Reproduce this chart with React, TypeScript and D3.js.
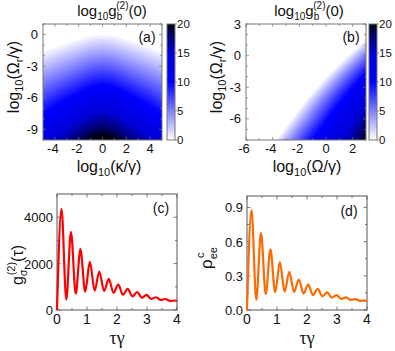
import React from "react";
import * as d3 from "d3";

// (a) log10 g_b^(2)(0) over log10(kappa/gamma) x log10(Omega_r/gamma)
const kappaLog = [-5, -4, -3, -2, -1, 0, 1, 2, 3, 4, 5];
const omegaRLogA = [1, 0, -1, -2, -3, -4, -5, -6, -7, -8, -9, -10];
const g2GridA = [
  [-4.1, -3.7, -3.1, -2.5, -2.0, -1.8, -2.0, -2.5, -3.1, -3.7, -4.1],
  [-2.5, -1.9, -1.3, -0.6, 0, 0.2, 0, -0.6, -1.3, -1.9, -2.5],
  [-0.8, -0.2, 0.5, 1.3, 2.0, 2.3, 2.0, 1.3, 0.5, -0.2, -0.8],
  [0.8, 1.6, 2.4, 3.2, 4.0, 4.3, 4.0, 3.2, 2.4, 1.6, 0.8],
  [2.5, 3.3, 4.2, 5.1, 6.0, 6.4, 6.0, 5.1, 4.2, 3.3, 2.5],
  [4.1, 5.1, 6.0, 7.0, 8.0, 8.4, 8.0, 7.0, 6.0, 5.1, 4.1],
  [5.8, 6.8, 7.9, 8.9, 10.0, 10.5, 10.0, 8.9, 7.9, 6.8, 5.8],
  [7.4, 8.6, 9.7, 10.8, 12.0, 12.5, 12.0, 10.8, 9.7, 8.6, 7.4],
  [9.1, 10.3, 11.5, 12.7, 14.0, 14.6, 14.0, 12.7, 11.5, 10.3, 9.1],
  [10.7, 12.1, 13.4, 14.6, 16.0, 16.6, 16.0, 14.6, 13.4, 12.1, 10.7],
  [12.4, 13.8, 15.2, 16.5, 18.0, 18.7, 18.0, 16.5, 15.2, 13.8, 12.4],
  [14.0, 15.6, 17.0, 18.4, 20.0, 20.7, 20.0, 18.4, 17.0, 15.6, 14.0],
];

// (b) log10 g_b^(2)(0) over log10(Omega/gamma) x log10(Omega_r/gamma)
const omegaLog = [-6, -5, -4, -3, -2, -1, 0, 1, 2, 3];
const omegaRLogB = [3, 2, 1, 0, -1, -2, -3, -4, -5, -6, -7, -8];
const g2GridB = [
  [-6, -6, -6, -6, -6, -6, -6, -6, -6, -5.2],
  [-6, -6, -6, -6, -6, -6, -6, -6, -5.6, -1.6],
  [-6, -6, -6, -6, -6, -6, -6, -6, -2.0, 2.0],
  [-6, -6, -6, -6, -6, -6, -6, -2.4, 1.6, 5.4],
  [-6, -6, -6, -6, -6, -6, -3.2, 0.8, 4.7, 8.2],
  [-6, -6, -6, -6, -6, -4.0, 0, 4.0, 7.5, 10.8],
  [-6, -6, -6, -6, -5.2, -1.2, 2.8, 6.5, 9.8, 12.5],
  [-6, -6, -6, -6, -2.4, 1.6, 5.4, 8.8, 11.8, 14.1],
  [-6, -6, -6, -4.0, 0, 4.0, 7.5, 10.8, 13.3, 15.3],
  [-6, -6, -5.6, -1.6, 2.4, 6.1, 9.5, 12.3, 14.5, 17.0],
  [-6, -6, -3.2, 0.8, 4.7, 8.2, 11.3, 13.7, 15.7, 18.5],
  [-6, -4.8, -0.8, 3.2, 6.8, 10.1, 12.8, 14.9, 16.7, 20.0],
];

// (c), (d) peaks and troughs of the oscillation vs tau*gamma
const tauGamma = [0, 0.15, 0.31, 0.465, 0.625, 0.78, 0.94, 1.095, 1.255, 1.41, 1.57, 1.725, 1.885, 2.04, 2.2,
  2.355, 2.515, 2.67, 2.83, 2.985, 3.145, 3.3, 3.46, 3.615, 3.775, 3.93, 4.0];
const g2Sigma = [0, 4360, 450, 3370, 700, 2620, 790, 2080, 830, 1660, 820, 1340, 740, 1100, 660,
  910, 590, 770, 530, 650, 475, 550, 430, 475, 390, 410, 385];
const rhoEe = [0, 0.877, 0.088, 0.677, 0.138, 0.531, 0.156, 0.421, 0.16, 0.334, 0.158, 0.267, 0.145, 0.222, 0.132,
  0.185, 0.12, 0.155, 0.108, 0.13, 0.097, 0.111, 0.088, 0.096, 0.08, 0.083, 0.077];

const cbTicks = [0, 5, 10, 15, 20];
const font = "'Liberation Sans', Arial, sans-serif";
const frame = "#777";

const color = d3.scaleLinear<string>()
  .domain([0, 10, 15, 18, 20])
  .range(["#ffffff", "#0000ff", "#0000d8", "#000070", "#000008"])
  .clamp(true);

const Heatmap = ({ id, xs, ys, grid, box, xDomain, yDomain, xTicks, yTicks, cbX }) => {
  const x = d3.scaleLinear().domain(xDomain).range([box.x0, box.x1]);
  const y = d3.scaleLinear().domain(yDomain).range([box.y1, box.y0]);
  const n = xs.length, m = ys.length;
  const step = 0.25;
  const thresholds = d3.range(step, 20.01, step);
  const bands = d3.contours().size([n, m]).thresholds(thresholds)(grid.flat());
  const dx = xs[1] - xs[0], dy = ys[1] - ys[0];
  const proj = d3.geoTransform({
    point: function (px, py) {
      this.stream.point(x(xs[0] + (px - 0.5) * dx), y(ys[0] + (py - 0.5) * dy));
    },
  });
  const path = d3.geoPath(proj);
  const cb = d3.scaleLinear().domain([0, 20]).range([box.y1, box.y0]);
  const minorX = d3.range(xDomain[0], xDomain[1] + 0.01, 1);
  const minorY = d3.range(Math.ceil(yDomain[0]), yDomain[1] + 0.01, 1);

  return (
    <g>
      <defs>
        <clipPath id={`clip-${id}`}>
          <rect x={box.x0} y={box.y0} width={box.x1 - box.x0} height={box.y1 - box.y0} />
        </clipPath>
        <linearGradient id={`grad-${id}`} x1="0" y1="1" x2="0" y2="0">
          {d3.range(0, 21, 1).map(v => (
            <stop key={v} offset={v / 20} stopColor={color(v)} />
          ))}
        </linearGradient>
      </defs>
      <g clipPath={`url(#clip-${id})`}>
        <rect x={box.x0} y={box.y0} width={box.x1 - box.x0} height={box.y1 - box.y0} fill={color(0)} />
        {bands.map((b, i) => (
          <path key={i} d={path(b)} fill={color(b.value + step / 2)} />
        ))}
      </g>
      {minorX.map(t => (
        <g key={"x" + t} stroke={frame} strokeWidth={0.7}>
          <line x1={x(t)} x2={x(t)} y1={box.y1} y2={box.y1 - (xTicks.includes(t) ? 3 : 2)} />
          <line x1={x(t)} x2={x(t)} y1={box.y0} y2={box.y0 + (xTicks.includes(t) ? 3 : 2)} />
        </g>
      ))}
      {minorY.map(t => (
        <g key={"y" + t} stroke={frame} strokeWidth={0.7}>
          <line x1={box.x0} x2={box.x0 + (yTicks.includes(t) ? 3 : 2)} y1={y(t)} y2={y(t)} />
          <line x1={box.x1} x2={box.x1 - (yTicks.includes(t) ? 3 : 2)} y1={y(t)} y2={y(t)} />
        </g>
      ))}
      <rect x={box.x0} y={box.y0} width={box.x1 - box.x0} height={box.y1 - box.y0}
        fill="none" stroke={frame} strokeWidth={1} />
      {xTicks.map(t => (
        <text key={t} x={x(t) - (t < 0 ? 2 : 0)} y={box.y1 + 13} textAnchor="middle" fontSize={13}>
          {t < 0 ? "-" + Math.abs(t) : t}
        </text>
      ))}
      {yTicks.map(t => (
        <text key={t} x={box.x0 - 5} y={y(t) + 4.5} textAnchor="end" fontSize={13}>
          {t < 0 ? "-" + Math.abs(t) : t}
        </text>
      ))}
      <rect x={cbX} y={box.y0} width={8} height={box.y1 - box.y0} fill={`url(#grad-${id})`}
        stroke={frame} strokeWidth={1} />
      {cbTicks.map(t => (
        <g key={t}>
          <line x1={cbX + 8} x2={cbX + 10} y1={cb(t)} y2={cb(t)} stroke={frame} strokeWidth={0.8} />
          <text x={cbX + 10} y={cb(t) + 4} fontSize={11.5}>{t}</text>
        </g>
      ))}
    </g>
  );
};

const LinePanel = ({ box, ys, yDomain, yTicks, yMinor, fmt, stroke }) => {
  const x = d3.scaleLinear().domain([0, 4]).range([box.x0, box.x1]);
  const y = d3.scaleLinear().domain(yDomain).range([box.y1, box.y0]);
  const line = d3.line<number>()
    .x((_, i) => x(tauGamma[i]))
    .y(d => y(d))
    .curve(d3.curveMonotoneX);
  const xTicks = [0, 1, 2, 3, 4];
  const xMinor = d3.range(0.5, 4, 1);
  return (
    <g>
      <rect x={box.x0} y={box.y0} width={box.x1 - box.x0} height={box.y1 - box.y0}
        fill="none" stroke="#555" strokeWidth={1} />
      {xTicks.concat(xMinor).map(t => {
        const len = xTicks.includes(t) ? 3.5 : 2;
        return (
          <g key={"x" + t} stroke="#555" strokeWidth={0.8}>
            <line x1={x(t)} x2={x(t)} y1={box.y1} y2={box.y1 - len} />
            <line x1={x(t)} x2={x(t)} y1={box.y0} y2={box.y0 + len} />
          </g>
        );
      })}
      {yTicks.concat(yMinor).map(t => {
        const len = yTicks.includes(t) ? 3.5 : 2;
        return (
          <g key={"y" + t} stroke="#555" strokeWidth={0.8}>
            <line x1={box.x0} x2={box.x0 + len} y1={y(t)} y2={y(t)} />
            <line x1={box.x1} x2={box.x1 - len} y1={y(t)} y2={y(t)} />
          </g>
        );
      })}
      <path d={line(ys)} fill="none" stroke={stroke} strokeWidth={2.2} strokeLinejoin="round" />
      {xTicks.map(t => (
        <text key={t} x={x(t)} y={box.y1 + 14} textAnchor="middle" fontSize={14}>{t}</text>
      ))}
      {yTicks.map(t => (
        <text key={t} x={box.x0 - 4} y={y(t) + 5} textAnchor="end" fontSize={13}>{fmt(t)}</text>
      ))}
    </g>
  );
};

const TitleG2 = ({ cx }) => (
  <text x={cx} y={16} textAnchor="middle" fontSize={15}>
    log<tspan fontSize={10} dy={4}>10</tspan>
    <tspan dy={-4}>g</tspan>
    <tspan fontSize={10} dy={4}>b</tspan>
    <tspan fontSize={10} dx={-6} dy={-11}>(2)</tspan>
    <tspan dy={7}>(0)</tspan>
  </text>
);

const LogLabel = ({ tx, ty, inner }) => (
  <text x={tx} y={ty} textAnchor="middle" fontSize={16}>
    log<tspan fontSize={11} dy={4}>10</tspan>
    <tspan dy={-4}>{inner}</tspan>
  </text>
);

const OmegaRLabel = ({ tx, ty }) => (
  <text transform={`translate(${tx},${ty}) rotate(-90)`} textAnchor="middle" fontSize={16}>
    log<tspan fontSize={11} dy={4}>10</tspan>
    <tspan dy={-4}>(Ω</tspan>
    <tspan fontSize={11} dy={4}>r</tspan>
    <tspan dy={-4}>/γ)</tspan>
  </text>
);

const App = () => {
  const boxA = { x0: 43, x1: 162, y0: 24, y1: 140 };
  const boxB = { x0: 246, x1: 366, y0: 24, y1: 140 };
  const boxC = { x0: 57, x1: 177, y0: 194, y1: 310 };
  const boxD = { x0: 247, x1: 367, y0: 196, y1: 310 };
  return (
    <svg width={395} height={351} style={{ position: "absolute", left: 0, top: 0, background: "#fff" }}
      fontFamily={font} fill="#111">
      <Heatmap id="a" xs={kappaLog} ys={omegaRLogA} grid={g2GridA} box={boxA}
        xDomain={[-5, 5]} yDomain={[-10, 1]} xTicks={[-4, -2, 0, 2, 4]} yTicks={[0, -3, -6, -9]} cbX={167} />
      <Heatmap id="b" xs={omegaLog} ys={omegaRLogB} grid={g2GridB} box={boxB}
        xDomain={[-6, 3]} yDomain={[-8, 3]} xTicks={[-6, -4, -2, 0, 2]} yTicks={[3, 0, -3, -6]} cbX={369} />
      <TitleG2 cx={112} />
      <TitleG2 cx={309} />
      <text x={147} y={42} textAnchor="middle" fontSize={14}>(a)</text>
      <text x={351} y={42} textAnchor="middle" fontSize={14}>(b)</text>

      <OmegaRLabel tx={19} ty={77} />
      <OmegaRLabel tx={222} ty={77} />
      <LogLabel tx={109} ty={172} inner="(κ/γ)" />
      <LogLabel tx={307} ty={172} inner="(Ω/γ)" />

      <LinePanel box={boxC} ys={g2Sigma} yDomain={[0, 5000]} yTicks={[0, 2000, 4000]}
        yMinor={[1000, 3000]} fmt={d3.format("d")} stroke="#ff0000" />
      <LinePanel box={boxD} ys={rhoEe} yDomain={[0, 1]} yTicks={[0, 0.3, 0.6, 0.9]}
        yMinor={[0.15, 0.45, 0.75]} fmt={d3.format(".1f")} stroke="#ff6a00" />
      <text x={161} y={213} textAnchor="middle" fontSize={14}>(c)</text>
      <text x={349} y={216} textAnchor="middle" fontSize={14}>(d)</text>

      <text transform="translate(23,265) rotate(-90)" textAnchor="middle" fontSize={16}>
        g<tspan fontSize={11} dy={4}>σ</tspan>
        <tspan fontSize={11} dx={-6} dy={-12}>(2)</tspan>
        <tspan dy={8}>(τ)</tspan>
      </text>
      <text transform="translate(212,258) rotate(-90)" textAnchor="middle" fontSize={17}>
        ρ<tspan fontSize={11} dy={5}>ee</tspan>
        <tspan fontSize={11} dx={-11} dy={-13}>c</tspan>
      </text>
      <text x={117} y={344} textAnchor="middle" fontSize={18} fontFamily="'Liberation Serif', serif">τγ</text>
      <text x={307} y={344} textAnchor="middle" fontSize={18} fontFamily="'Liberation Serif', serif">τγ</text>
    </svg>
  );
};

export default App;
